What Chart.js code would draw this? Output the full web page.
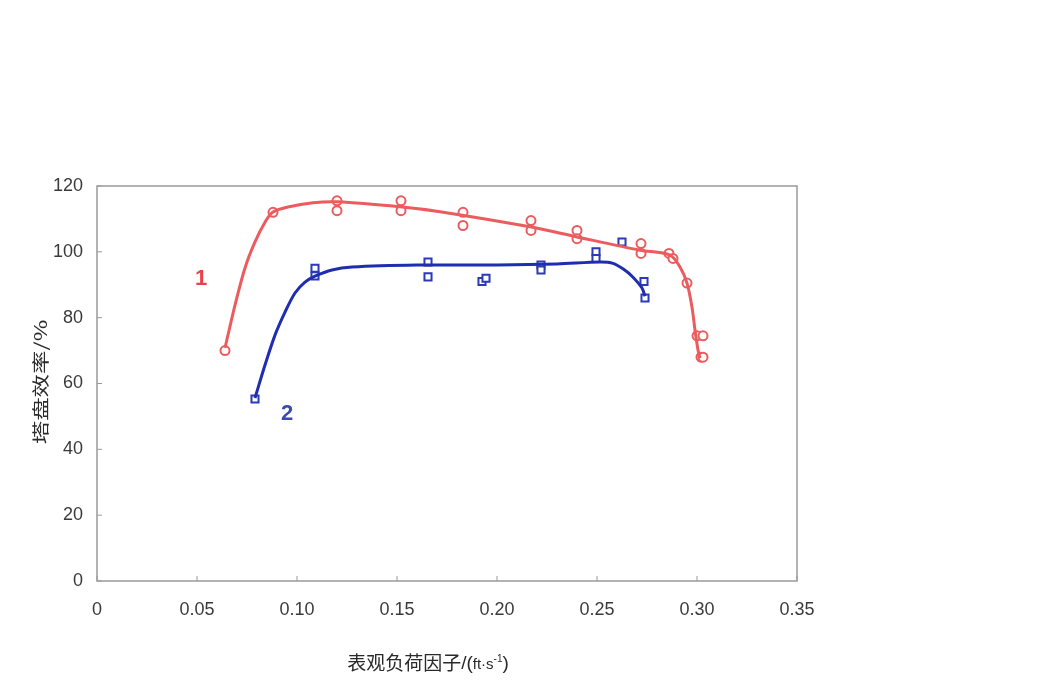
<!DOCTYPE html>
<html>
<head>
<meta charset="utf-8">
<script src="https://cdn.jsdelivr.net/npm/chart.js@4/dist/chart.umd.min.js"></script>
<style>
    html, body { margin: 0; padding: 0; background: #fff; }
    #wrap { width: 1038px; height: 694px; }
</style>
</head>
<body>
<div id="wrap"><canvas id="chart" width="1038" height="694"></canvas></div>
<script>
// Data
const xTickLabels = ['0', '0.05', '0.10', '0.15', '0.20', '0.25', '0.30', '0.35'];
const yTickLabels = ['0', '20', '40', '60', '80', '100', '120'];

// Series 1 (red circles)
const redPointsX = [0.064, 0.088, 0.120, 0.120, 0.152, 0.152, 0.183, 0.183, 0.217, 0.217, 0.240, 0.240, 0.272, 0.272, 0.286, 0.288, 0.295, 0.300, 0.303, 0.302, 0.303];
const redPointsY = [70, 112, 115.5, 112.5, 115.5, 112.5, 112, 108, 109.5, 106.5, 106.5, 104, 102.5, 99.5, 99.5, 98, 90.5, 74.5, 74.5, 68, 68];
const redCurveX = [0.064, 0.069, 0.074, 0.079, 0.084, 0.088, 0.0955, 0.108, 0.120, 0.1515, 0.1715, 0.2165, 0.2395, 0.2715, 0.2865, 0.2915, 0.295, 0.2975, 0.299, 0.3005, 0.3015];
const redCurveY = [70.8, 83.8, 95.1, 103, 109, 112.1, 113.6, 114.9, 115.2, 113.7, 112.2, 107.6, 104.6, 100.5, 99, 95.4, 90.5, 83.2, 76.2, 70.2, 67.7];

// Series 2 (blue squares)
const bluePointsX = [0.079, 0.109, 0.109, 0.1655, 0.1655, 0.1925, 0.1945, 0.222, 0.222, 0.2495, 0.2495, 0.2625, 0.2735, 0.274];
const bluePointsY = [55.3, 95, 92.7, 96.9, 92.4, 91, 92, 96, 94.5, 100, 98, 103, 91, 86];
const blueCurveX = [0.079, 0.084, 0.089, 0.094, 0.099, 0.104, 0.109, 0.1175, 0.1275, 0.160, 0.200, 0.230, 0.2515, 0.258, 0.2635, 0.268, 0.2725, 0.274];
const blueCurveY = [55.6, 65.6, 74.7, 81.7, 87.5, 90.8, 92.6, 94.5, 95.4, 96, 96, 96.3, 96.9, 96.5, 94.6, 92.3, 89, 86.5];

// Series labels placed in data space
const seriesLabels = [
    { text: '1', x: 0.052, y: 91.8, color: '#e8414a' },
    { text: '2', x: 0.095, y: 50.7, color: '#3a4bb0' }
];

const RED = '#ec5b5d';
const BLUE = '#1f2db0';
const AXIS_GREY = '#9a9a9a';
const TEXT = '#3a3a3a';
const FONT = "'Liberation Sans', Arial, sans-serif";
const CJK = "'Noto Sans CJK SC', sans-serif";

function toXY(xs, ys) {
    return xs.map((x, i) => ({ x: x, y: ys[i] }));
}

// Draw text made of several runs, squeezed/stretched horizontally
function drawRuns(ctx, runs, sx) {
    let w = 0;
    runs.forEach(r => { ctx.font = r.font; r.w = ctx.measureText(r.text).width; w += r.w; });
    let x = -w / 2;
    ctx.save();
    ctx.scale(sx, 1);
    ctx.textAlign = 'left';
    runs.forEach(r => {
        ctx.font = r.font;
        ctx.fillText(r.text, x, r.dy || 0);
        x += r.w;
    });
    ctx.restore();
}

// Frame, inner tick marks, axis titles and series labels
const decorPlugin = {
    id: 'decor',
    afterDraw(chart) {
        const ctx = chart.ctx;
        const area = chart.chartArea;
        const xs = chart.scales.x;
        const ys = chart.scales.y;
        ctx.save();

        // box
        ctx.strokeStyle = AXIS_GREY;
        ctx.lineWidth = 1.5;
        ctx.strokeRect(area.left, area.top, area.right - area.left, area.bottom - area.top);

        // tick marks inside
        ctx.lineWidth = 1;
        xs.ticks.forEach(t => {
            const px = xs.getPixelForValue(t.value);
            ctx.beginPath();
            ctx.moveTo(px, area.bottom);
            ctx.lineTo(px, area.bottom - 5);
            ctx.stroke();
        });
        ys.ticks.forEach(t => {
            const py = ys.getPixelForValue(t.value);
            ctx.beginPath();
            ctx.moveTo(area.left, py);
            ctx.lineTo(area.left + 5, py);
            ctx.stroke();
        });

        // axis titles
        ctx.fillStyle = '#2a2a2a';
        ctx.textBaseline = 'middle';

        ctx.save();
        ctx.translate(428, 663);
        drawRuns(ctx, [
            { text: '表观负荷因子', font: '19px ' + CJK },
            { text: '/(', font: '19px ' + FONT, dy: 1 },
            { text: 'ft·s', font: '15px ' + FONT, dy: 2 },
            { text: '-1', font: '10px ' + FONT, dy: -4 },
            { text: ')', font: '19px ' + FONT, dy: 1 }
        ], 1);
        ctx.restore();

        ctx.save();
        ctx.translate(41, 382);
        ctx.rotate(-Math.PI / 2);
        drawRuns(ctx, [{ text: '塔盘效率/%', font: '17px ' + CJK }], 1.38);
        ctx.restore();

        // series labels
        ctx.textAlign = 'center';
        ctx.font = "bold 22px " + FONT;
        seriesLabels.forEach(l => {
            ctx.fillStyle = l.color;
            ctx.fillText(l.text, xs.getPixelForValue(l.x), ys.getPixelForValue(l.y));
        });

        ctx.restore();
    }
};

const ctx = document.getElementById('chart').getContext('2d');

new Chart(ctx, {
    type: 'scatter',
    data: {
        datasets: [
            {
                label: 'curve1',
                data: toXY(redCurveX, redCurveY),
                showLine: true,
                borderColor: RED,
                borderWidth: 3,
                pointRadius: 0,
                tension: 0.3
            },
            {
                label: 'points1',
                data: toXY(redPointsX, redPointsY),
                pointStyle: 'circle',
                pointRadius: 4.5,
                borderWidth: 2,
                borderColor: RED,
                backgroundColor: '#fff'
            },
            {
                label: 'curve2',
                data: toXY(blueCurveX, blueCurveY),
                showLine: true,
                borderColor: BLUE,
                borderWidth: 3,
                pointRadius: 0,
                tension: 0.3
            },
            {
                label: 'points2',
                data: toXY(bluePointsX, bluePointsY),
                pointStyle: 'rect',
                pointRadius: 5,
                borderWidth: 2,
                borderColor: '#2a3ab8',
                backgroundColor: '#fff'
            }
        ]
    },
    options: {
        responsive: false,
        animation: false,
        layout: {
            padding: { top: 186, right: 241, left: 0, bottom: 0 }
        },
        plugins: {
            legend: { display: false },
            tooltip: { enabled: false }
        },
        scales: {
            x: {
                type: 'linear',
                min: 0,
                max: 0.35,
                border: { display: false },
                grid: { display: false },
                afterFit(scale) { scale.height = 113; },
                afterBuildTicks(scale) {
                    scale.ticks = xTickLabels.map(v => ({ value: parseFloat(v) }));
                },
                ticks: {
                    color: TEXT,
                    font: { family: FONT, size: 18 },
                    padding: 10,
                    callback: (v, i) => xTickLabels[i]
                }
            },
            y: {
                type: 'linear',
                min: 0,
                max: 120,
                border: { display: false },
                grid: { display: false },
                afterFit(scale) { scale.width = 97; },
                afterBuildTicks(scale) {
                    scale.ticks = yTickLabels.map(v => ({ value: parseFloat(v) }));
                },
                ticks: {
                    color: TEXT,
                    font: { family: FONT, size: 18 },
                    padding: 6,
                    callback: (v, i) => yTickLabels[i]
                }
            }
        }
    },
    plugins: [decorPlugin]
});
</script>
</body>
</html>
